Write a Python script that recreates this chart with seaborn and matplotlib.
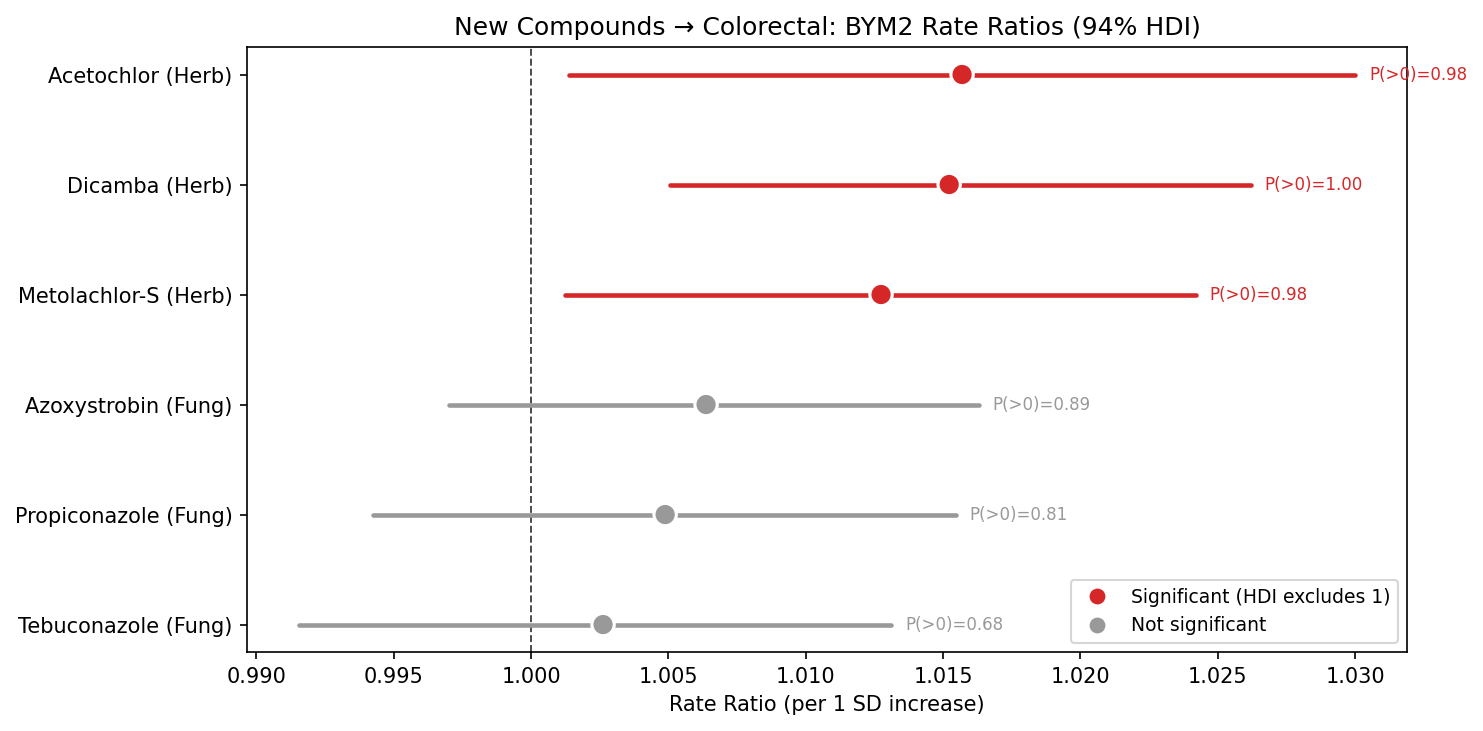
import pandas as pd
import matplotlib.pyplot as plt
import seaborn as sns

sns.set_style("ticks")
plt.rcParams.update({
    "text.color": "black",
    "axes.labelcolor": "black",
    "axes.edgecolor": "black",
    "xtick.color": "black",
    "ytick.color": "black",
})

compounds = [
    "Acetochlor (Herb)",
    "Dicamba (Herb)",
    "Metolachlor-S (Herb)",
    "Azoxystrobin (Fung)",
    "Propiconazole (Fung)",
    "Tebuconazole (Fung)",
]
rate_ratio = [1.01569, 1.01522, 1.01274, 1.00637, 1.00488, 1.00262]
hdi_low = [1.00138, 1.00506, 1.00124, 0.99701, 0.99425, 0.99155]
hdi_high = [1.03000, 1.02621, 1.02421, 1.01631, 1.01547, 1.01311]
p_pos = [0.98, 1.00, 0.98, 0.89, 0.81, 0.68]

SIG = "Significant (HDI excludes 1)"
NOT_SIG = "Not significant"
colors = {SIG: "#d62728", NOT_SIG: "#999999"}

df = pd.DataFrame(
    {
        "compound": compounds,
        "rr": rate_ratio,
        "lo": hdi_low,
        "hi": hdi_high,
        "p": p_pos,
    }
)
df["pos"] = range(len(df))
df["sig"] = [SIG if (lo > 1 or hi < 1) else NOT_SIG for lo, hi in zip(df["lo"], df["hi"])]

fig, ax = plt.subplots(figsize=(1483 / 150, 731 / 150), dpi=150)
fig.subplots_adjust(left=0.1666, right=0.9488, top=0.9357, bottom=0.108)

# HDI bars + posterior probability labels
for _, row in df.iterrows():
    c = colors[row["sig"]]
    ax.plot([row["lo"], row["hi"]], [row["pos"], row["pos"]], color=c, lw=2.2,
            solid_capstyle="round", zorder=2)
    ax.text(row["hi"] + 0.0005, row["pos"], f"P(>0)={row['p']:.2f}", color=c,
            fontsize=8, va="center", ha="left")

sns.scatterplot(
    data=df, x="rr", y="pos", hue="sig", palette=colors, hue_order=[SIG, NOT_SIG],
    s=115, edgecolor="white", linewidth=1.5, zorder=3, ax=ax,
)

ax.axvline(1.0, color="#444444", ls="--", lw=0.9, zorder=1)
ax.set_yticks(df["pos"])
ax.set_yticklabels(df["compound"], fontsize=10)
ax.invert_yaxis()
ax.set_ylabel("")
ax.set_xlabel("Rate Ratio (per 1 SD increase)", fontsize=10)
ax.set_xticks([0.990, 0.995, 1.000, 1.005, 1.010, 1.015, 1.020, 1.025, 1.030])
ax.set_xticklabels([f"{v:.3f}" for v in ax.get_xticks()], fontsize=10)
ax.set_xlim(0.98966, 1.03189)
ax.set_title("New Compounds → Colorectal: BYM2 Rate Ratios (94% HDI)", fontsize=12)
ax.legend(loc="lower right", fontsize=9, title=None, markerscale=0.85)

fig.savefig("out.png", dpi=150)
